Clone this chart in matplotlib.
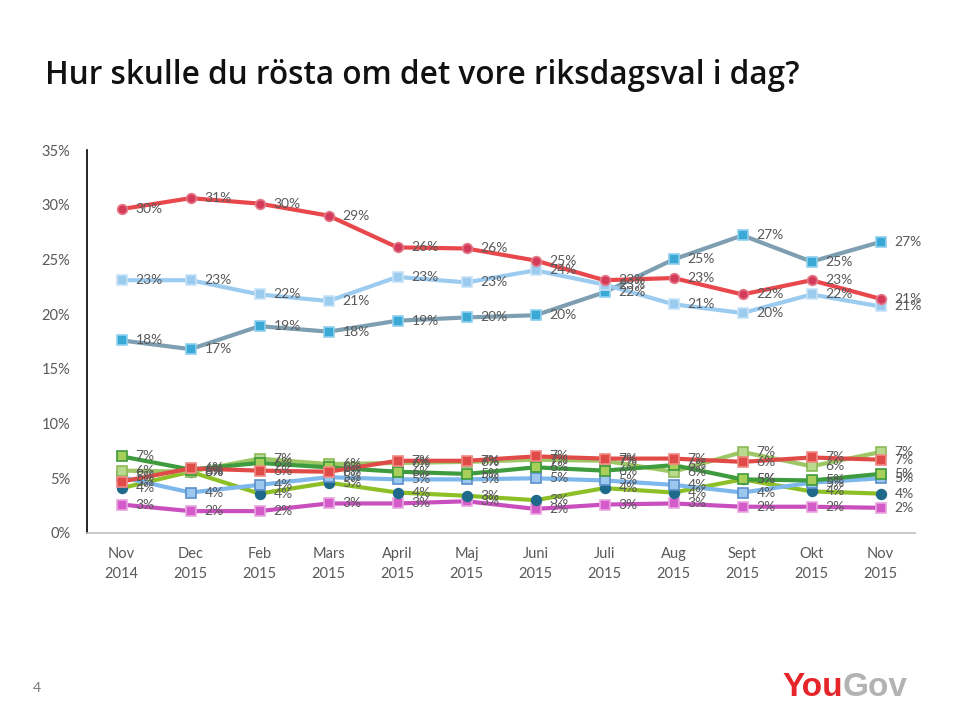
import matplotlib
matplotlib.use("Agg")
import matplotlib.pyplot as plt

months = ["Nov\n2014", "Dec\n2015", "Feb\n2015", "Mars\n2015", "April\n2015", "Maj\n2015",
          "Juni\n2015", "Juli\n2015", "Aug\n2015", "Sept\n2015", "Okt\n2015", "Nov\n2015"]

s_red = [29.6, 30.6, 30.1, 29.0, 26.1, 26.0, 24.9, 23.1, 23.3, 21.8, 23.1, 21.4]
m_blue = [23.1, 23.1, 21.8, 21.2, 23.4, 22.9, 24.0, 22.7, 20.9, 20.1, 21.8, 20.7]
sd_steel = [17.6, 16.8, 18.9, 18.4, 19.4, 19.7, 19.9, 22.0, 25.0, 27.2, 24.8, 26.6]
dark_green = [7.0, 5.8, 6.4, 6.0, 5.6, 5.4, 6.0, 5.7, 6.2, 4.9, 4.8, 5.4]
olive = [5.7, 5.6, 6.8, 6.3, 6.4, 6.5, 6.7, 6.6, 5.6, 7.4, 6.1, 7.4]
red_small = [4.7, 5.9, 5.7, 5.6, 6.6, 6.6, 7.0, 6.8, 6.8, 6.5, 6.9, 6.7]
blue_small = [5.1, 3.7, 4.4, 5.1, 4.9, 4.9, 5.0, 4.8, 4.4, 3.7, 4.6, 5.0]
yellow_green = [4.1, 5.6, 3.6, 4.6, 3.7, 3.4, 3.0, 4.1, 3.7, 4.9, 3.8, 3.6]
magenta = [2.6, 2.0, 2.0, 2.7, 2.7, 2.9, 2.2, 2.6, 2.7, 2.4, 2.4, 2.3]

# (values, line colour, marker, marker face, marker edge)
series = [
    (magenta, "#C94FBE", "s", "#D45BC9", "#E8A6E0"),
    (yellow_green, "#8DC026", "o", "#1F6A8A", "#1F6A8A"),
    (blue_small, "#7DB7EC", "s", "#9CC8F0", "#5B8FC9"),
    (olive, "#9DC765", "s", "#B9D98F", "#8DBA57"),
    (dark_green, "#3E9B3E", "s", "#A8CF5A", "#3E9B3E"),
    (red_small, "#E04B48", "s", "#E04B48", "#F08A86"),
    (sd_steel, "#7E9EB1", "s", "#3BA9D6", "#8FD0EC"),
    (m_blue, "#9CCBF0", "s", "#9CCBF0", "#C7E3F8"),
    (s_red, "#E8474C", "o", "#D43A5A", "#E37A8A"),
]

plt.rcParams["font.family"] = ["Lato", "DejaVu Sans"]
label_color = "#595959"

fig = plt.figure(figsize=(9.6, 7.06), dpi=100)
ax = fig.add_axes([87 / 960, 1 - 533 / 706, (915 - 87) / 960, (533 - 150) / 706])

x = list(range(len(months)))
for vals, lc, mk, mf, me in series:
    ax.plot(x, vals, color=lc, lw=3, marker=mk, ms=7, mfc=mf, mec=me, mew=1.2,
            solid_capstyle="round", zorder=3)
    for xi, v in zip(x, vals):
        ax.annotate(f"{round(v)}%", (xi, v), xytext=(10, 0), textcoords="offset points",
                    ha="left", va="center", fontsize=10, color=label_color, zorder=4)

ax.set_xlim(-0.5, len(months) - 0.5)
ax.set_ylim(0, 35)
ax.set_yticks(range(0, 36, 5))
ax.set_yticklabels([f"{v}%" for v in range(0, 36, 5)])
ax.set_xticks(x)
ax.set_xticklabels(months, linespacing=1.55)
ax.tick_params(axis="both", length=0, labelsize=10.5, colors=label_color, pad=10)
ax.tick_params(axis="y", pad=12)

for side in ["top", "right"]:
    ax.spines[side].set_visible(False)
ax.spines["left"].set_color("black")
ax.spines["left"].set_linewidth(1.2)
ax.spines["bottom"].set_color("#BFBFBF")
ax.spines["bottom"].set_linewidth(1.2)

fig.text(45 / 960, 1 - 75 / 706, "Hur skulle du rösta om det vore riksdagsval i dag?",
         family=["Open Sans", "DejaVu Sans"], fontweight="semibold", fontsize=22.7,
         color="#111111", va="center", ha="left")
fig.text(33 / 960, 1 - 688 / 706, "4", fontsize=10, color="#777777", va="center")
fig.text(782 / 960, 1 - 688 / 706, "You", fontsize=24, fontweight="bold",
         color="#E5252A", va="center", ha="left", family=["Liberation Sans"])
fig.text(843 / 960, 1 - 688 / 706, "Gov", fontsize=24, fontweight="bold",
         color="#B3B3B3", va="center", ha="left", family=["Liberation Sans"])

fig.savefig("out.png", dpi=100)
